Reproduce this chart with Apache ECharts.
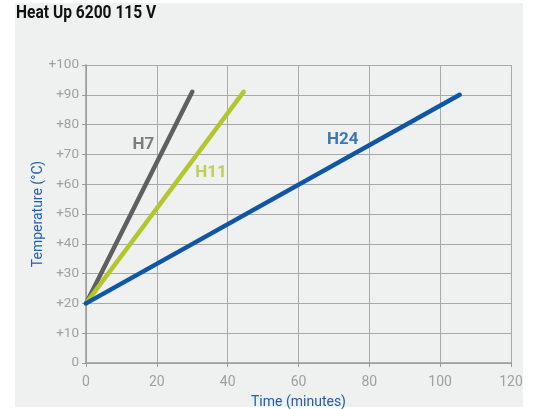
<!DOCTYPE html>
<html>
<head>
<meta charset="utf-8">
<script src="https://cdn.jsdelivr.net/npm/echarts@6/dist/echarts.min.js"></script>
<style>
  html, body { margin: 0; padding: 0; background: #fff; }
  #chart { width: 533px; height: 409px; }
</style>
</head>
<body>
<div id="chart"></div>
<script>
// heat-up curves: [minutes, °C]
const h7 = [[0, 20], [30, 91]]
const h11 = [[0, 20], [44.5, 91]]
const h24 = [[0, 20], [105.5, 90]]
const seriesNames = ['H7', 'H11', 'H24']
const seriesColors = ['#5e5f61', '#b4c62e', '#0f57a5']
// where each curve's name sits
const labelSpots = [[16.2, 73.3], [35.3, 64], [72.5, 74.8]]

const font = 'Roboto, sans-serif'
const tickColor = '#a0a0a0'
const gridColor = '#a9a9a9'

const lines = [h7, h11, h24].map((d, i) => ({
  name: seriesNames[i],
  type: 'line',
  data: d,
  symbol: 'none',
  silent: true,
  lineStyle: { color: seriesColors[i], width: 4.5, cap: 'round' },
  z: 3
}))

const labels = labelSpots.map((p, i) => ({
  type: 'scatter',
  data: [p],
  symbolSize: 0,
  silent: true,
  label: {
    show: true,
    position: 'inside',
    formatter: seriesNames[i],
    color: seriesColors[i],
    fontFamily: font,
    fontWeight: 'bold',
    fontSize: 17
  },
  z: 4
}))

const chart = echarts.init(document.getElementById('chart'))
chart.setOption({
  animation: false,
  graphic: [{
    type: 'rect',
    shape: { x: 15, y: 3, width: 508, height: 404 },
    style: { fill: '#eff0f0' },
    z: -10
  }, {
    // condensed bold title
    type: 'text',
    x: 16,
    y: 4,
    scaleX: 0.82,
    style: {
      text: 'Heat Up 6200 115 V',
      font: 'bold 19px Roboto, sans-serif',
      fill: '#111',
      verticalAlign: 'top'
    }
  }],
  grid: { left: 86, right: 22, top: 65, bottom: 46, outerBoundsMode: 'none' },
  xAxis: {
    type: 'value',
    min: 0,
    max: 120,
    interval: 20,
    name: 'Time (minutes)',
    nameLocation: 'middle',
    nameGap: 32,
    nameMoveOverlap: false,
    nameTextStyle: { color: '#2160a9', fontFamily: font, fontSize: 14 },
    axisLine: { show: true, lineStyle: { color: '#9a9a9a', width: 1.5 } },
    axisTick: { show: true, length: 4, lineStyle: { color: '#9a9a9a' } },
    axisLabel: { color: tickColor, fontFamily: font, fontSize: 14, margin: 12 },
    splitLine: { show: true, lineStyle: { color: gridColor, width: 1 } }
  },
  yAxis: {
    type: 'value',
    min: 0,
    max: 100,
    interval: 10,
    name: 'Temperature (°C)',
    nameLocation: 'middle',
    nameGap: 41,
    nameMoveOverlap: false,
    nameTextStyle: { color: '#2160a9', fontFamily: font, fontSize: 14 },
    axisLine: { show: true, lineStyle: { color: '#9a9a9a', width: 1.5 } },
    axisTick: { show: true, length: 4, lineStyle: { color: '#9a9a9a' } },
    axisLabel: {
      color: tickColor,
      fontFamily: font,
      fontSize: 13.5,
      margin: 7,
      formatter: v => (v === 0 ? '0' : '+' + v)
    },
    splitLine: { show: true, lineStyle: { color: gridColor, width: 1 } }
  },
  series: lines.concat(labels)
})
</script>
</body>
</html>
